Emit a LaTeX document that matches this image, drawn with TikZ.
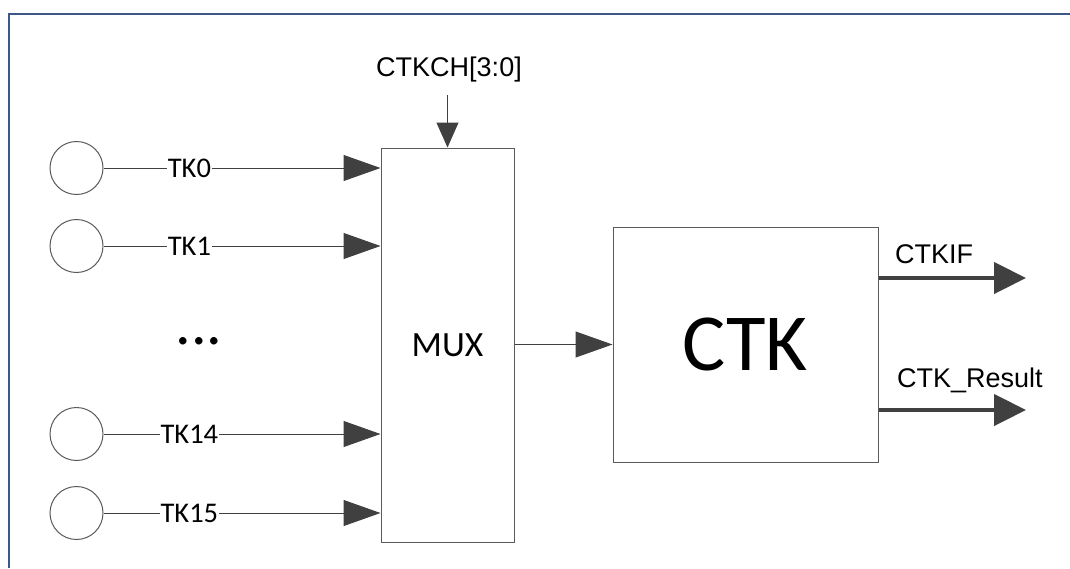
\documentclass[tikz,border=0pt]{standalone}
\usepackage{fontspec}
\setmainfont{Carlito}
\newfontfamily\arialfont{Liberation Sans}
\usetikzlibrary{arrows.meta}
\definecolor{ink}{HTML}{000000}
\definecolor{wire}{HTML}{2A2A2A}
\definecolor{edge}{HTML}{5A5A5A}
\definecolor{head}{HTML}{404040}
\definecolor{frame}{HTML}{3B5886}

\tikzset{
  pad/.style={circle,draw=edge,line width=1pt,minimum size=53pt,inner sep=0pt},
  blk/.style={draw=edge,line width=1pt,fill=white,inner sep=0pt},
  sig/.style={wire,line width=1pt,-{Triangle[length=37pt,width=26pt]},head},
  bus/.style={head,line width=4.5pt,-{Triangle[length=32pt,width=31pt]}},
  tklbl/.style={fill=white,inner sep=1pt,text=ink,font=\fontsize{28.5}{30}\selectfont},
  pin/.style={inner sep=0pt,text=ink,font=\arialfont\fontsize{27}{30}\selectfont}
}

\begin{document}
\begin{tikzpicture}[x=1pt,y=-1pt]
  \useasboundingbox (0,0) rectangle (1070,568);
  \draw[frame,line width=2pt] (9,568) -- (9,14) -- (1070,14);
  % blocks
  \node[blk,minimum width=133pt,minimum height=394pt] (mux) at (447.5,345) {};
  \node[font=\fontsize{35.5}{40}\selectfont,text=ink] (muxlbl) at (447.5,345) {MUX};
  \node[blk,minimum width=265pt,minimum height=235pt] (ctk) at (745.5,344.5) {};
  \node[font=\fontsize{81}{90}\selectfont,text=ink] (ctklbl) at (745.5,344.5) {CTK};
  % touch key inputs
  \foreach \i/\y in {0/168,1/246,14/434,15/513}{
    \node[pad] (tk\i) at (76.5,\y) {};
    \draw[sig] (tk\i.east) -- node[tklbl,pos=0.31] (tkl\i) {TK\i} (mux.west |- tk\i.east);
  }
  \node[font=\fontsize{62}{70}\selectfont,text=ink,inner sep=0pt,anchor=base] (dots) at (199,344) {...};
  % channel select
  \node[pin] (ctkch) at (449,70) {CTKCH[3:0]};
  \coordinate (sel) at (447.5,95);
  \draw[sig,-{Triangle[length=25pt,width=22pt]}] (sel) -- (mux.north);
  \draw[sig] (mux.east |- ctk.west) -- (ctk.west);
  % outputs
  \coordinate (ifo) at (1026,278);
  \coordinate (reso) at (1026,410);
  \draw[bus] (ctk.east |- ifo) -- (ifo);
  \draw[bus] (ctk.east |- reso) -- (reso);
  \node[pin,anchor=base west] (iflbl) at (895,263) {CTKIF};
  \node[pin,anchor=base west] (reslbl) at (897,387) {CTK\_Result};
\end{tikzpicture}
\end{document}
